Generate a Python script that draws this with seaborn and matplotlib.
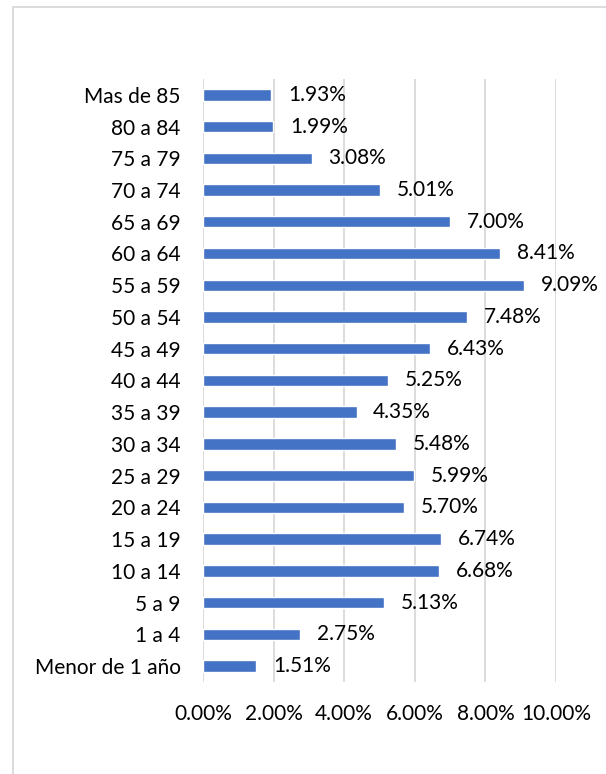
import matplotlib
matplotlib.use("Agg")
import matplotlib.pyplot as plt
import seaborn as sns
import pandas as pd
from matplotlib.patches import Rectangle

# age groups, top to bottom as shown
groups = ["Mas de 85", "80 a 84", "75 a 79", "70 a 74", "65 a 69", "60 a 64",
          "55 a 59", "50 a 54", "45 a 49", "40 a 44", "35 a 39", "30 a 34",
          "25 a 29", "20 a 24", "15 a 19", "10 a 14", "5 a 9", "1 a 4",
          "Menor de 1 año"]
shares = [1.93, 1.99, 3.08, 5.01, 7.00, 8.41, 9.09, 7.48, 6.43, 5.25, 4.35,
          5.48, 5.99, 5.70, 6.74, 6.68, 5.13, 2.75, 1.51]
x_ticks = [0, 2, 4, 6, 8, 10]
x_tick_labels = ["0.00%", "2.00%", "4.00%", "6.00%", "8.00%", "10.00%"]

df = pd.DataFrame({"grupo": groups, "pct": shares})

sns.set_style("white")
plt.rcParams["font.family"] = ["Lato", "DejaVu Sans"]

fig = plt.figure(figsize=(6.06, 7.74), dpi=100)
ax = fig.add_axes([0.335, 0.119, 0.5825, 0.779])

sns.barplot(data=df, x="pct", y="grupo", order=groups, color="#4472C4",
            saturation=1, width=0.36, ax=ax)

for i, v in enumerate(shares):
    ax.annotate(f"{v:.2f}%", xy=(v, i), xytext=(12, 0), textcoords="offset points",
                ha="left", va="center", fontsize=15, color="#000000")

ax.set_xlim(0, 10)
ax.set_ylim(18.5, -0.5)
ax.set_xticks(x_ticks)
ax.set_xticklabels(x_tick_labels)
ax.grid(axis="x", color="#D9D9D9", linewidth=1.3)
ax.set_axisbelow(True)
for s in ax.spines.values():
    s.set_visible(False)
ax.tick_params(axis="both", length=0, labelsize=15, colors="#000000")
ax.tick_params(axis="x", pad=16)
ax.tick_params(axis="y", pad=16)
ax.set_xlabel("")
ax.set_ylabel("")

# outer chart frame
fig.patches.append(Rectangle((13 / 606, -0.05), 1.1, 1 - 7 / 774 + 0.05,
                             transform=fig.transFigure, fill=False,
                             edgecolor="#D9D9D9", linewidth=1.3))

fig.savefig("out.png", dpi=100)
